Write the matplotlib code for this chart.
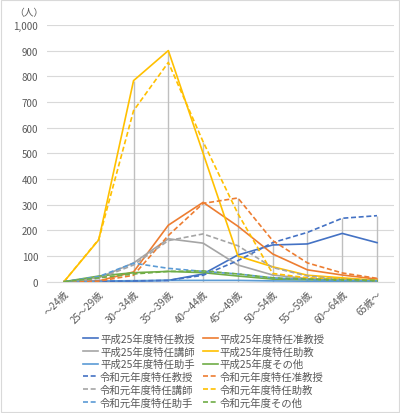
import matplotlib
matplotlib.use("Agg")
import matplotlib.pyplot as plt
from matplotlib.ticker import FuncFormatter
from matplotlib.patches import Rectangle

plt.rcParams['font.family'] = ['Noto Sans CJK JP', 'DejaVu Sans']

categories = ['～24歳', '25～29歳', '30～34歳', '35～39歳', '40～44歳',
              '45～49歳', '50～54歳', '55～59歳', '60～64歳', '65歳～']

h25_prof = [0, 1, 2, 5, 30, 104, 143, 147, 188, 152]
h25_assoc = [0, 3, 38, 220, 309, 216, 108, 46, 26, 10]
h25_lect = [0, 15, 73, 167, 150, 65, 26, 12, 8, 5]
h25_asstprof = [0, 163, 783, 900, 500, 100, 58, 25, 15, 5]
h25_asst = [0, 2, 4, 5, 5, 5, 3, 2, 2, 1]
h25_other = [0, 22, 35, 40, 35, 22, 10, 8, 5, 3]
r1_prof = [0, 1, 3, 5, 25, 82, 152, 192, 247, 257]
r1_assoc = [0, 2, 25, 180, 305, 326, 160, 73, 34, 13]
r1_lect = [0, 12, 65, 160, 186, 140, 55, 22, 10, 5]
r1_asstprof = [0, 165, 666, 854, 545, 265, 32, 15, 10, 5]
r1_asst = [0, 20, 72, 52, 40, 30, 15, 8, 5, 3]
r1_other = [0, 15, 30, 40, 42, 30, 15, 10, 8, 5]

labels = ['平成25年度特任教授', '平成25年度特任准教授', '平成25年度特任講師',
          '平成25年度特任助教', '平成25年度特任助手', '平成25年度その他',
          '令和元年度特任教授', '令和元年度特任准教授', '令和元年度特任講師',
          '令和元年度特任助教', '令和元年度特任助手', '令和元年度その他']
series = [h25_prof, h25_assoc, h25_lect, h25_asstprof, h25_asst, h25_other,
          r1_prof, r1_assoc, r1_lect, r1_asstprof, r1_asst, r1_other]
colors = ['#4472C4', '#ED7D31', '#A5A5A5', '#FFC000', '#5B9BD5', '#70AD47']

fig = plt.figure(figsize=(4.0, 4.14), dpi=100)
fig.patches.append(Rectangle((0.002, 0.002), 0.996, 0.996, transform=fig.transFigure,
                             fill=False, edgecolor='#D9D9D9', linewidth=0.8))
ax = fig.add_axes([0.1165, 0.3172, 0.986 - 0.1165, 0.9374 - 0.3172])

x = list(range(len(categories)))

# drop lines
for i in x:
    mx = max(s[i] for s in series)
    ax.vlines(i, 0, mx, color='#BFBFBF', linewidth=1.0, zorder=1)

handles = []
for k, (s, lab) in enumerate(zip(series, labels)):
    c = colors[k % 6]
    ls = '-' if k < 6 else (0, (3, 1.6))
    h, = ax.plot(x, s, color=c, linestyle=ls, linewidth=1.2, label=lab, zorder=3)
    handles.append(h)

ax.set_xlim(-0.5, len(categories) - 0.5)
ax.set_ylim(0, 1000)
ax.set_yticks(range(0, 1001, 100))
ax.yaxis.set_major_formatter(FuncFormatter(lambda v, p: f"{int(v):,}"))
ax.grid(axis='y', color='#D9D9D9', linewidth=0.8)
ax.set_axisbelow(True)
for sp in ['top', 'right', 'left']:
    ax.spines[sp].set_visible(False)
ax.spines['bottom'].set_color('#D9D9D9')
ax.set_xticks(x)
ax.set_xticklabels(categories, rotation=45, ha='right', va='top', rotation_mode='anchor')
ax.tick_params(axis='both', length=0, labelsize=7, colors='#595959')
ax.tick_params(axis='y', pad=6)
ax.tick_params(axis='x', pad=5)

fig.text(0.035, 0.968, '（人）', fontsize=7, color='#595959', ha='left', va='center')

order = [0, 2, 4, 6, 8, 10, 1, 3, 5, 7, 9, 11]
leg = fig.legend([handles[i] for i in order], [labels[i] for i in order],
                 ncol=2, loc='upper center', bbox_to_anchor=(0.51, 0.205),
                 frameon=False, fontsize=7.5, handlelength=1.4, handletextpad=0.2,
                 columnspacing=0.8, labelspacing=0.25, borderpad=0)
for t in leg.get_texts():
    t.set_color('#595959')

fig.savefig('out.png', dpi=100)
